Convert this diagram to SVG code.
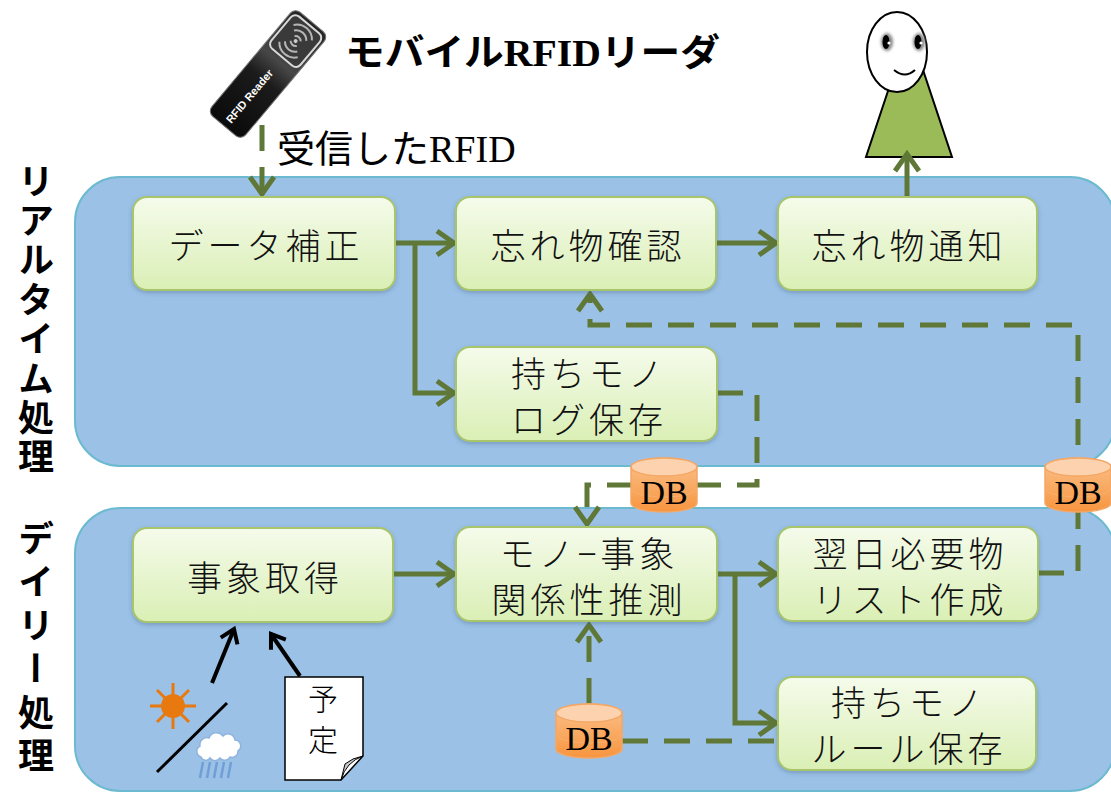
<svg xmlns="http://www.w3.org/2000/svg" width="1111" height="792" viewBox="0 0 1111 792">
  <defs>
    <style>
      .panel { fill: #9bc1e6; stroke: #6cbad0; stroke-width: 2; }
      .node rect { fill: url(#nodeGrad); stroke: #a8c56c; stroke-width: 2; filter: url(#shadow); }
      .node text { font-family: "Noto Sans CJK JP", sans-serif; font-size: 35px; font-weight: 300; fill: #111; text-anchor: middle; dominant-baseline: central; letter-spacing: 4px; }
      .flow { fill: none; stroke: #5f7837; stroke-width: 5; }
      .dash { stroke-dasharray: 26 16; }
      .ink { fill: none; stroke: #000; stroke-width: 4; }
      .side { font-family: "Noto Sans CJK JP", sans-serif; font-size: 36px; font-weight: 700; fill: #000; writing-mode: vertical-rl; text-orientation: upright; }
      .dbtext { font-family: "Liberation Serif", serif; font-size: 34px; fill: #000; text-anchor: middle; }
      .label { font-family: "Liberation Serif", "Noto Sans CJK JP", serif; fill: #000; }
    </style>
    <linearGradient id="nodeGrad" x1="0" y1="0" x2="0" y2="1">
      <stop offset="0" stop-color="#f5fbeb"/>
      <stop offset="1" stop-color="#daefb5"/>
    </linearGradient>
    <linearGradient id="dbGrad" x1="0" y1="0" x2="0" y2="1">
      <stop offset="0" stop-color="#fbc28c"/>
      <stop offset="1" stop-color="#f7953f"/>
    </linearGradient>
    <linearGradient id="readerGrad" x1="0" y1="0" x2="1" y2="0">
      <stop offset="0" stop-color="#050505"/>
      <stop offset="0.45" stop-color="#2a2a2a"/>
      <stop offset="0.62" stop-color="#8a8a8a"/>
      <stop offset="1" stop-color="#3a3a3a"/>
    </linearGradient>
    <filter id="shadow" x="-5%" y="-5%" width="110%" height="120%">
      <feDropShadow dx="0" dy="2" stdDeviation="2" flood-color="#3b5a7a" flood-opacity="0.35"/>
    </filter>
    <filter id="soft" x="-50%" y="-50%" width="200%" height="200%">
      <feGaussianBlur stdDeviation="1.5"/>
    </filter>
    <marker id="arrow" viewBox="-22 -15 26 30" refX="0" refY="0" markerWidth="26" markerHeight="30" orient="auto" markerUnits="userSpaceOnUse">
      <path d="M-17,-12 L0,0 L-17,12" fill="none" stroke="#5f7837" stroke-width="5" stroke-linejoin="miter"/>
    </marker>
    <marker id="arrowInk" viewBox="-18 -12 22 24" refX="0" refY="0" markerWidth="22" markerHeight="24" orient="auto" markerUnits="userSpaceOnUse">
      <path d="M-13,-9 L0,0 L-13,9" fill="none" stroke="#000" stroke-width="4"/>
    </marker>
    <g id="db">
      <path d="M0,9 A33,9 0 0,1 66,9 V45 A33,9 0 0,1 0,45 Z" fill="url(#dbGrad)" stroke="#f4a766" stroke-width="1.5"/>
      <path d="M0,30 A33,9 0 0,0 66,30" fill="none" stroke="#f8b06e" stroke-width="1"/>
      <ellipse cx="33" cy="9" rx="33" ry="9" fill="#fcd3ae" stroke="#f4a766" stroke-width="1.5"/>
    </g>
  </defs>

  <rect width="1111" height="792" fill="#fff"/>

  <!-- process lanes -->
  <rect class="panel" x="75" y="177" width="1040" height="289" rx="45"/>
  <rect class="panel" x="75" y="508" width="1040" height="283" rx="45"/>
  <text class="side" x="36" y="163" letter-spacing="3.4">リアルタイム処理</text>
  <text class="side" x="36" y="520" letter-spacing="7.5">デイリー処理</text>

  <!-- handheld reader -->
  <g id="reader" transform="translate(268,74) rotate(-50)">
    <rect x="-68" y="-22" width="136" height="44" rx="7" fill="url(#readerGrad)"/>
    <rect x="-68" y="-22" width="136" height="44" rx="7" fill="#111" opacity="0.55"/>
    <rect x="-68" y="-22" width="136" height="44" rx="7" fill="none" stroke="#777" stroke-width="1"/>
    <rect x="22" y="-19" width="42" height="38" rx="6" fill="#3a3a3a" stroke="#d8d8d8" stroke-width="2"/>
    <g fill="none" stroke="#b5b5b5" stroke-width="2">
      <path d="M46,-4 A5,5 0 0,1 46,4"/>
      <path d="M50,-8 A10,10 0 0,1 50,8"/>
      <path d="M54,-12 A15,15 0 0,1 54,12"/>
      <path d="M40,-4 A5,5 0 0,0 40,4"/>
      <path d="M36,-8 A10,10 0 0,0 36,8"/>
      <path d="M32,-12 A15,15 0 0,0 32,12"/>
    </g>
    <circle cx="43" cy="0" r="2" fill="#ccc"/>
    <text x="-62" y="4" font-family="Liberation Sans, sans-serif" font-size="11" font-weight="700" fill="#fff">RFID Reader</text>
  </g>
  <text class="label" x="345" y="66" font-size="37" font-weight="700" textLength="375" lengthAdjust="spacingAndGlyphs">モバイルRFIDリーダ</text>
  <text class="label" x="277" y="162" font-size="38">受信したRFID</text>

  <!-- person -->
  <g id="person">
    <polygon points="909,28 866,157 952,157" fill="#9bbb59" stroke="#000" stroke-width="2"/>
    <ellipse cx="897" cy="52" rx="30" ry="40" fill="#fff" stroke="#000" stroke-width="2"/>
    <ellipse cx="887" cy="42" rx="6" ry="9" fill="#888" filter="url(#soft)"/>
    <ellipse cx="919" cy="42" rx="6" ry="9" fill="#888" filter="url(#soft)"/>
    <ellipse cx="886" cy="42" rx="3.5" ry="7" fill="#000"/>
    <ellipse cx="918" cy="42" rx="3.5" ry="7" fill="#000"/>
    <circle cx="889" cy="43" r="1.6" fill="#fff"/>
    <circle cx="921" cy="43" r="1.6" fill="#fff"/>
    <path d="M894,70 Q905,79 915,70" fill="none" stroke="#000" stroke-width="2"/>
  </g>

  <!-- connectors -->
  <g id="connectors">
    <path class="flow dash" d="M262,125 V194" marker-end="url(#arrow)"/>
    <path class="flow" d="M395,243 H454" marker-end="url(#arrow)"/>
    <path class="flow" d="M415,243 V393 H454" marker-end="url(#arrow)"/>
    <path class="flow" d="M716,243 H776" marker-end="url(#arrow)"/>
    <path class="flow" d="M907,197 V154" marker-end="url(#arrow)"/>
    <path class="flow dash" d="M1038,573 H1078 V325 H590 V294" marker-end="url(#arrow)"/>
    <path class="flow dash" d="M717,393 H757 V485 H690"/>
    <path class="flow dash" d="M633,485 H587 V524" marker-end="url(#arrow)"/>
    <path class="flow" d="M393,574 H454" marker-end="url(#arrow)"/>
    <path class="flow" d="M717,574 H776" marker-end="url(#arrow)"/>
    <path class="flow" d="M735,574 V723 H776" marker-end="url(#arrow)"/>
    <path class="flow dash" d="M622,741 H778"/>
    <path class="flow dash" d="M589,704 V625" marker-end="url(#arrow)"/>
    <path class="ink" d="M212,683 L234,629" marker-end="url(#arrowInk)"/>
    <path class="ink" d="M300,676 L271,634" marker-end="url(#arrowInk)"/>
  </g>

  <!-- databases -->
  <g id="db-log">
    <use href="#db" x="631" y="458"/>
    <text class="dbtext" x="664" y="504">DB</text>
  </g>
  <g id="db-list">
    <use href="#db" x="1045" y="458"/>
    <text class="dbtext" x="1078" y="504">DB</text>
  </g>
  <g id="db-rule">
    <use href="#db" x="556" y="704"/>
    <text class="dbtext" x="589" y="750">DB</text>
  </g>

  <!-- realtime nodes -->
  <g id="n-correct" class="node">
    <rect x="133" y="197" width="262" height="93" rx="14"/>
    <text x="266" y="243">データ補正</text>
  </g>
  <g id="n-check" class="node">
    <rect x="456" y="197" width="260" height="93" rx="14"/>
    <text x="588" y="243">忘れ物確認</text>
  </g>
  <g id="n-notify" class="node">
    <rect x="778" y="197" width="259" height="93" rx="14"/>
    <text x="909" y="243">忘れ物通知</text>
  </g>
  <g id="n-log" class="node">
    <rect x="456" y="347" width="261" height="94" rx="14"/>
    <text x="589" y="371">持ちモノ</text>
    <text x="589" y="417">ログ保存</text>
  </g>

  <!-- daily nodes -->
  <g id="n-event" class="node">
    <rect x="133" y="528" width="260" height="94" rx="14"/>
    <text x="265" y="575">事象取得</text>
  </g>
  <g id="n-relation" class="node">
    <rect x="456" y="527" width="261" height="94" rx="14"/>
    <text x="589" y="551">モノ−事象</text>
    <text x="589" y="597">関係性推測</text>
  </g>
  <g id="n-list" class="node">
    <rect x="778" y="527" width="260" height="94" rx="14"/>
    <text x="910" y="551">翌日必要物</text>
    <text x="910" y="597">リスト作成</text>
  </g>
  <g id="n-rule" class="node">
    <rect x="778" y="677" width="258" height="93" rx="14"/>
    <text x="909" y="700">持ちモノ</text>
    <text x="909" y="746">ルール保存</text>
  </g>

  <!-- weather icon -->
  <g id="weather">
    <g stroke="#e8790f" stroke-width="3">
      <line x1="173" y1="683" x2="173" y2="729"/>
      <line x1="150" y1="706" x2="196" y2="706"/>
      <line x1="157" y1="690" x2="189" y2="722"/>
      <line x1="157" y1="722" x2="189" y2="690"/>
    </g>
    <circle cx="173" cy="706" r="12" fill="#e8790f"/>
    <line x1="157" y1="772" x2="227" y2="703" stroke="#000" stroke-width="3"/>
    <path d="M201,757 a6,6 0 0,1 -1,-11 a7,7 0 0,1 9,-8 a8,8 0 0,1 14,-2 a7,7 0 0,1 12,4 a6,6 0 0,1 3,11 a6,6 0 0,1 -8,6 a6,6 0 0,1 -10,1 a6,6 0 0,1 -10,0 a5,5 0 0,1 -9,-1 z" fill="#fff" stroke="#8fb4e0" stroke-width="1.5"/>
    <g stroke="#6f9fd6" stroke-width="2.5">
      <line x1="203" y1="762" x2="200" y2="778"/>
      <line x1="210" y1="762" x2="207" y2="778"/>
      <line x1="217" y1="762" x2="214" y2="778"/>
      <line x1="224" y1="762" x2="221" y2="778"/>
      <line x1="231" y1="762" x2="228" y2="778"/>
    </g>
  </g>

  <!-- schedule sheet -->
  <g id="schedule">
    <path d="M285,677 H363 V756 L341,780 H285 Z" fill="#fff" stroke="#000" stroke-width="1.5"/>
    <path d="M341,780 Q346,762 363,756 Q352,758 345,764 Z" fill="#c8c8c8" stroke="#000" stroke-width="1"/>
    <text x="323" y="710" font-family="Noto Sans CJK JP, sans-serif" font-size="30" font-weight="300" text-anchor="middle">予</text>
    <text x="323" y="751" font-family="Noto Sans CJK JP, sans-serif" font-size="30" font-weight="300" text-anchor="middle">定</text>
  </g>
</svg>
